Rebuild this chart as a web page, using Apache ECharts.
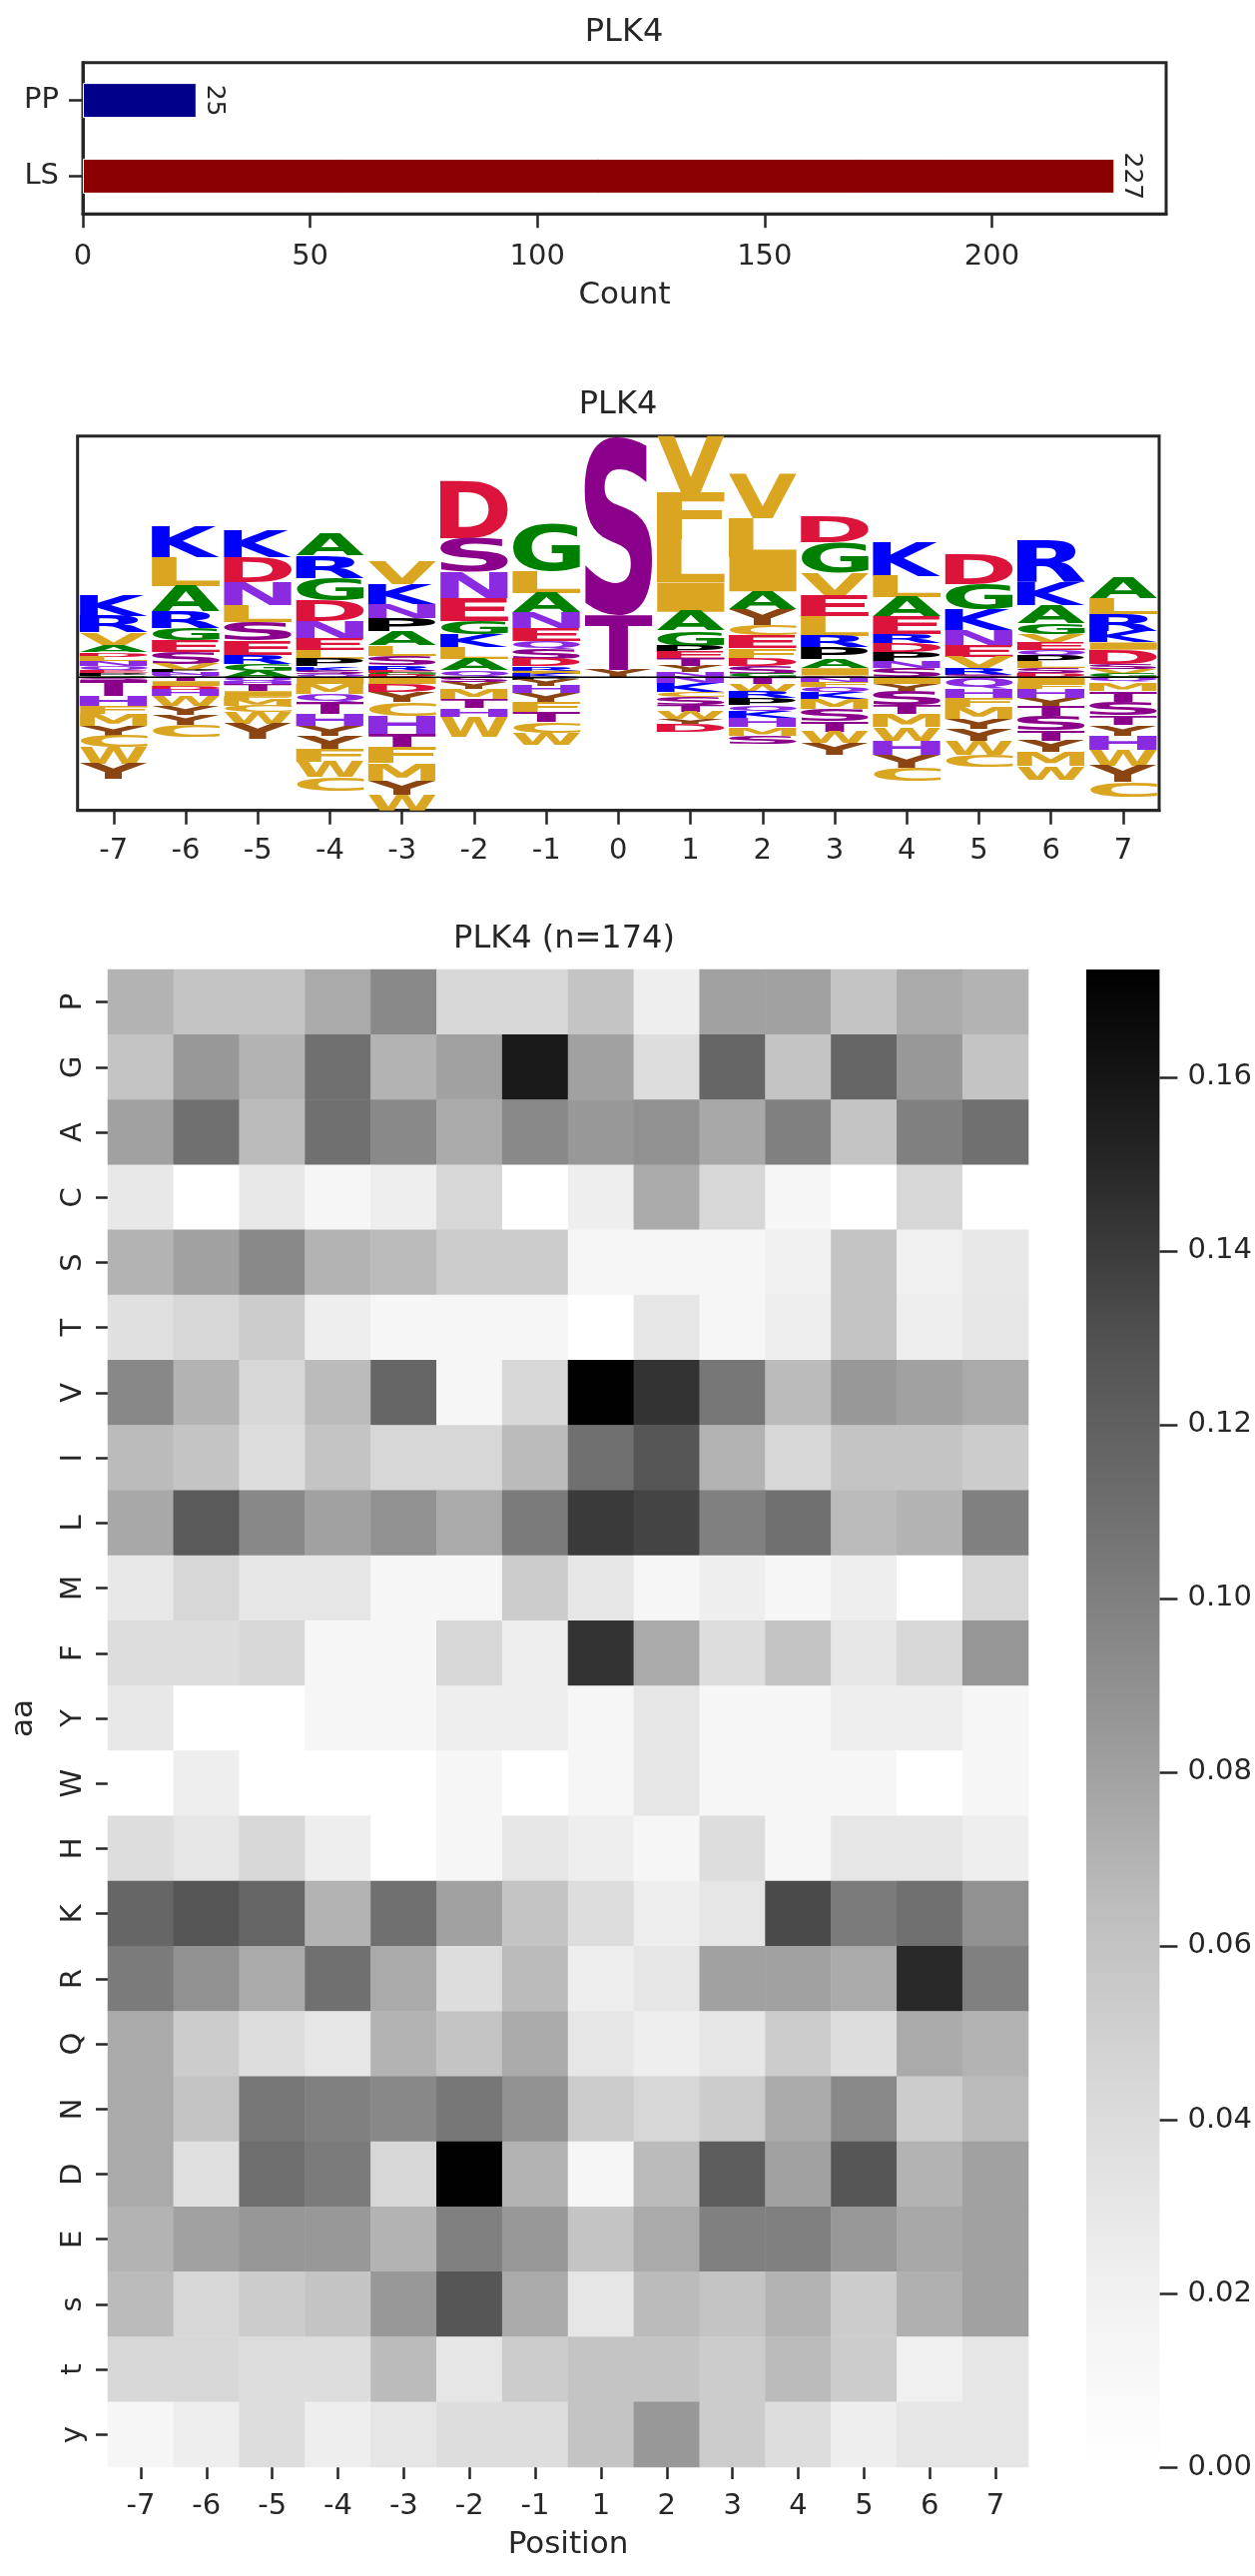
<!DOCTYPE html>
<html><head><meta charset="utf-8">
<script src="https://cdn.jsdelivr.net/npm/echarts@6/dist/echarts.min.js"></script>
<style>html,body{margin:0;padding:0;background:#fff}#c{width:1257px;height:2580px}</style>
</head><body><div id="c"></div>
<script>
// ---------- bar chart data ----------
const barCategories = ['PP', 'LS'];
const barValues = [25, 227];
const barColors = ['#00008b', '#8b0000'];
const barTicks = [0, 50, 100, 150, 200];

// ---------- sequence logo data (letter, height); above: top->bottom, below: from baseline downward ----------
const logoPositions = [-7, -6, -5, -4, -3, -2, -1, 0, 1, 2, 3, 4, 5, 6, 7];
const logoM7Above = [['K',.21],['R',.167],['V',.133],['A',.067],['D',.043],['L',.047],['N',.05],['Q',.043],['E',.027],['P',.023],['G',.017]];
const logoM7Below = [['S',-.023],['T',-.16],['H',-.10],['F',-.083],['M',-.117],['Y',-.10],['C',-.117],['W',-.167],['Y',-.15]];
const logoM6Above = [['K',.317],['L',.29],['A',.26],['R',.163],['G',.127],['E',.11],['S',.123],['V',.057],['P',.027],['N',.027],['Q',.023]];
const logoM6Below = [['T',-.04],['I',-.05],['D',-.04],['H',-.06],['W',-.10],['Y',-.09],['Y',-.10],['C',-.117]];
const logoM5Above = [['K',.277],['D',.25],['N',.233],['L',.173],['S',.183],['E',.143],['R',.09],['G',.067],['A',.067]];
const logoM5Below = [['Q',-.04],['H',-.033],['T',-.067],['I',-.05],['F',-.04],['M',-.06],['C',-.06],['W',-.117],['Y',-.15]];
const logoM4Above = [['A',.227],['R',.223],['G',.223],['D',.21],['N',.183],['E',.11],['L',.09],['P',.073],['K',.043],['S',.033],['Q',.033]];
const logoM4Below = [['I',-.067],['M',-.10],['Q',-.083],['T',-.117],['H',-.117],['Y',-.10],['Y',-.14],['F',-.127],['W',-.15],['C',-.133]];
const logoM3Above = [['V',.227],['K',.20],['N',.143],['P',.133],['A',.14],['L',.107],['S',.093],['R',.05],['E',.027],['G',.02],['D',.02]];
const logoM3Below = [['I',-.067],['D',-.077],['Y',-.107],['C',-.133],['H',-.183],['T',-.143],['F',-.15],['M',-.173],['Y',-.143],['W',-.158]];
const logoM2Above = [['D',.567],['S',.333],['N',.263],['E',.227],['G',.133],['K',.133],['L',.117],['A',.117],['Q',.067]];
const logoM2Below = [['S',-.05],['Y',-.067],['M',-.10],['T',-.093],['H',-.083],['W',-.20]];
const logoM1Above = [['G',.467],['L',.217],['A',.193],['N',.157],['E',.133],['Q',.083],['S',.10],['D',.073],['R',.043],['I',.033],['K',.033]];
const logoM1Below = [['P',-.023],['Y',-.06],['H',-.073],['Y',-.093],['F',-.10],['T',-.10],['C',-.107],['W',-.12]];
const logoP0Above = [['S',1.789],['T',.55],['Y',.077]];
const logoP0Below = [];
const logoP1Above = [['V',.567],['F',.467],['L',.433],['I',.293],['A',.19],['G',.15],['P',.06],['E',.073],['T',.073],['Y',.06],['N',.05]];
const logoP1Below = [['N',-.057],['K',-.093],['C',-.05],['S',-.083],['T',-.06],['W',-.073],['Y',-.05],['D',-.083]];
const logoP2Above = [['V',.443],['L',.383],['I',.347],['A',.177],['Y',.16],['C',.107],['E',.127],['F',.107],['D',.073],['S',.077],['G',.033]];
const logoP2Below = [['T',-.067],['W',-.083],['R',-.06],['P',-.067],['Q',-.067],['K',-.067],['H',-.09],['M',-.083],['S',-.083]];
const logoP3Above = [['D',.26],['G',.30],['V',.233],['E',.207],['L',.20],['R',.11],['P',.117],['A',.093],['I',.073],['S',.017]];
const logoP3Below = [['N',-.043],['F',-.05],['Q',-.067],['K',-.06],['M',-.10],['S',-.123],['T',-.10],['W',-.117],['Y',-.117]];
const logoP4Above = [['K',.333],['L',.217],['A',.19],['E',.177],['R',.093],['D',.09],['P',.093],['N',.067],['S',.09]];
const logoP4Below = [['I',-.067],['Y',-.067],['S',-.143],['T',-.09],['M',-.133],['W',-.133],['H',-.143],['Y',-.133],['C',-.133]];
const logoP5Above = [['D',.30],['G',.25],['K',.207],['N',.16],['E',.117],['V',.11],['R',.067],['S',.023]];
const logoP5Below = [['Q',-.117],['H',-.093],['F',-.09],['M',-.117],['Y',-.10],['Y',-.117],['W',-.143],['C',-.123]];
const logoP6Above = [['R',.41],['K',.233],['A',.18],['G',.11],['V',.083],['E',.073],['Q',.067],['P',.06],['L',.06],['S',.047],['D',.043]];
const logoP6Below = [['I',-.067],['F',-.05],['H',-.093],['Y',-.073],['T',-.10],['S',-.15],['T',-.10],['Y',-.11],['M',-.147],['W',-.133]];
const logoP7Above = [['A',.21],['L',.157],['R',.167],['K',.117],['I',.073],['D',.143],['S',.05],['V',.05],['G',.033]];
const logoP7Below = [['Q',-.05],['M',-.083],['T',-.11],['S',-.14],['T',-.093],['Y',-.107],['H',-.14],['W',-.16],['Y',-.167],['C',-.15]];
const logoYMin = -1.334, logoYMax = 2.416;

// ---------- heatmap data ----------
const heatPositions = ['-7','-6','-5','-4','-3','-2','-1','1','2','3','4','5','6','7'];
const heatResidues = ['P','G','A','C','S','T','V','I','L','M','F','Y','W','H','K','R','Q','N','D','E','s','t','y'];
const heatP = [.070,.059,.059,.075,.094,.045,.045,.059,.023,.080,.080,.059,.075,.070];
const heatG = [.059,.085,.070,.110,.070,.080,.157,.080,.039,.116,.059,.116,.085,.059];
const heatA = [.080,.110,.066,.110,.094,.075,.094,.085,.089,.076,.100,.059,.100,.110];
const heatC = [.029,0,.029,.013,.023,.045,0,.023,.075,.045,.013,0,.045,0];
const heatS = [.070,.080,.094,.070,.066,.053,.053,.013,.013,.013,.022,.059,.022,.029];
const heatT = [.037,.045,.053,.023,.013,.013,.013,0,.031,.013,.023,.059,.023,.031];
const heatV = [.095,.070,.045,.066,.116,.013,.045,.172,.144,.105,.066,.085,.080,.075];
const heatI = [.066,.059,.039,.059,.045,.045,.066,.110,.127,.070,.045,.059,.059,.053];
const heatL = [.076,.124,.095,.080,.089,.075,.103,.141,.136,.100,.110,.066,.070,.100];
const heatM = [.029,.045,.031,.031,.013,.013,.053,.031,.013,.023,.013,.023,0,.045];
const heatF = [.039,.039,.045,.013,.013,.045,.023,.144,.075,.039,.059,.031,.045,.086];
const heatY = [.029,0,0,.013,.013,.023,.023,.013,.031,.013,.013,.023,.023,.013];
const heatW = [0,.023,0,0,0,.013,0,.013,.031,.013,.013,.013,0,.013];
const heatH = [.039,.031,.045,.023,0,.013,.031,.023,.013,.039,.013,.031,.031,.023];
const heatK = [.116,.127,.116,.070,.110,.080,.059,.039,.023,.031,.133,.103,.110,.089];
const heatR = [.103,.089,.075,.110,.075,.039,.066,.023,.031,.080,.080,.075,.149,.100];
const heatQ = [.075,.053,.039,.031,.070,.059,.075,.031,.023,.031,.053,.039,.075,.070];
const heatN = [.075,.059,.105,.100,.095,.105,.089,.053,.045,.053,.075,.094,.053,.066];
const heatD = [.075,.037,.111,.103,.045,.172,.070,.013,.066,.122,.080,.127,.070,.080];
const heatE = [.070,.080,.086,.085,.070,.100,.085,.059,.075,.100,.100,.085,.076,.080];
const heat_s = [.066,.045,.053,.059,.085,.127,.075,.031,.066,.059,.070,.053,.072,.080];
const heat_t = [.045,.045,.039,.039,.066,.031,.053,.059,.059,.053,.066,.053,.022,.031];
const heat_y = [.013,.023,.039,.023,.031,.039,.039,.059,.085,.053,.039,.023,.031,.031];
const cbarTicks = [0, 0.02, 0.04, 0.06, 0.08, 0.10, 0.12, 0.14, 0.16];
const heatMax = 0.1724;

// ---------- styling ----------
const INK = '#262626';
const FONT = 'DejaVu Sans';
const greys = ['#ffffff','#f0f0f0','#d9d9d9','#bdbdbd','#969696','#737373','#525252','#252525','#000000'];
const letterColor = {
  K:'#0000ff', R:'#0000ff',
  D:'#dc143c', E:'#dc143c',
  G:'#008000', A:'#008000',
  N:'#8a2be2', Q:'#8a2be2', H:'#8a2be2',
  S:'#8b008b', T:'#8b008b',
  V:'#daa520', L:'#daa520', I:'#daa520', M:'#daa520', F:'#daa520', W:'#daa520', C:'#daa520',
  Y:'#8b4513', P:'#000000'
};

// ---------- build logo items ----------
const logoAbove = [logoM7Above,logoM6Above,logoM5Above,logoM4Above,logoM3Above,logoM2Above,logoM1Above,logoP0Above,logoP1Above,logoP2Above,logoP3Above,logoP4Above,logoP5Above,logoP6Above,logoP7Above];
const logoBelow = [logoM7Below,logoM6Below,logoM5Below,logoM4Below,logoM3Below,logoM2Below,logoM1Below,logoP0Below,logoP1Below,logoP2Below,logoP3Below,logoP4Below,logoP5Below,logoP6Below,logoP7Below];
const logoItems = [];
logoPositions.forEach((p, i) => {
  let top = logoAbove[i].reduce((s, e) => s + e[1], 0);
  logoAbove[i].forEach(([ch, h]) => { logoItems.push({ x: p, y0: top - h, y1: top, ch }); top -= h; });
  let y = 0;
  logoBelow[i].forEach(([ch, h]) => { logoItems.push({ x: p, y0: y + h, y1: y, ch }); y += h; });
});

const mctx = document.createElement('canvas').getContext('2d');
mctx.font = 'bold 100px ' + FONT;
mctx.textBaseline = 'middle';
mctx.textAlign = 'left';
const metricCache = {};
function glyphMetrics(ch) {
  if (!metricCache[ch]) {
    const m = mctx.measureText(ch);
    metricCache[ch] = { L: m.actualBoundingBoxLeft, R: m.actualBoundingBoxRight, A: m.actualBoundingBoxAscent, D: m.actualBoundingBoxDescent };
  }
  return metricCache[ch];
}
const LETTER_HALF = 0.47;
function renderLetter(params, api) {
  const it = logoItems[params.dataIndex];
  const x = api.value(0), y0 = api.value(1), y1 = api.value(2);
  const tl = api.coord([x - LETTER_HALF, y1]);
  const br = api.coord([x + LETTER_HALF, y0]);
  const rw = br[0] - tl[0], rh = br[1] - tl[1];
  if (rh <= 0.2) return null;
  const m = glyphMetrics(it.ch);
  const sx = rw / (m.L + m.R), sy = rh / (m.A + m.D);
  return {
    type: 'text', x: tl[0] + m.L * sx, y: tl[1] + m.A * sy, scaleX: sx, scaleY: sy, silent: true,
    style: { text: it.ch, fill: letterColor[it.ch], fontSize: 100, fontWeight: 'bold', fontFamily: FONT, align: 'left', verticalAlign: 'middle' }
  };
}

// ---------- heatmap table ----------
const heatRows = [heatP,heatG,heatA,heatC,heatS,heatT,heatV,heatI,heatL,heatM,heatF,heatY,heatW,heatH,heatK,heatR,heatQ,heatN,heatD,heatE,heat_s,heat_t,heat_y];
const heatData = [];
heatRows.forEach((row, r) => row.forEach((v, c) => heatData.push([c, r, v])));

const tickStyle = { color: INK, width: 2.5 };
const labelStyle = { color: INK, fontSize: 29, fontFamily: FONT };
const nameStyle = { color: INK, fontSize: 31, fontFamily: FONT };

const chart = echarts.init(document.getElementById('c'), null, { renderer: 'canvas', width: 1257, height: 2580 });
chart.setOption({
  animation: false,
  backgroundColor: '#ffffff',
  textStyle: { fontFamily: FONT },
  graphic: [
    { type: 'text', x: 625, y: 33, style: { text: 'PLK4', fill: INK, fontSize: 32, fontFamily: FONT, align: 'center', verticalAlign: 'middle' } },
    { type: 'text', x: 619, y: 406, style: { text: 'PLK4', fill: INK, fontSize: 32, fontFamily: FONT, align: 'center', verticalAlign: 'middle' } },
    { type: 'text', x: 565, y: 941, style: { text: 'PLK4 (n=174)', fill: INK, fontSize: 32, fontFamily: FONT, align: 'center', verticalAlign: 'middle' } }
  ],
  grid: [
    { left: 83, top: 62.7, width: 1085, height: 151.6, show: true, borderColor: INK, borderWidth: 3 },
    { left: 77.7, top: 436.7, width: 1083.3, height: 375, show: true, borderColor: INK, borderWidth: 3 },
    { left: 100, top: 971, width: 930, height: 1500 },
    { left: 1088, top: 971, width: 75, height: 1500 }
  ],
  visualMap: [{ type: 'continuous', show: false, min: 0, max: heatMax, seriesIndex: 3, dimension: 2, inRange: { color: greys } }],
  xAxis: [
    { gridIndex: 0, type: 'value', min: 0, max: 238.35,
      axisLine: { show: true, onZero: false, lineStyle: { color: INK, width: 3 } }, splitLine: { show: false },
      axisTick: { show: true, length: 14, lineStyle: tickStyle, customValues: barTicks },
      axisLabel: Object.assign({ margin: 29, customValues: barTicks }, labelStyle),
      name: 'Count', nameLocation: 'middle', nameGap: 66, nameTextStyle: nameStyle },
    { gridIndex: 1, type: 'value', min: -7.5, max: 7.5,
      axisLine: { show: true, onZero: false, lineStyle: { color: INK, width: 3 } }, splitLine: { show: false },
      axisTick: { show: true, length: 14, lineStyle: tickStyle, customValues: logoPositions },
      axisLabel: Object.assign({ margin: 26, customValues: logoPositions }, labelStyle) },
    { gridIndex: 2, type: 'category', data: heatPositions,
      axisLine: { show: false, onZero: false }, splitLine: { show: false },
      axisTick: { show: true, alignWithLabel: true, interval: 0, length: 12, lineStyle: tickStyle },
      axisLabel: Object.assign({ margin: 25, interval: 0 }, labelStyle),
      name: 'Position', nameLocation: 'middle', nameGap: 62, nameTextStyle: nameStyle },
    { gridIndex: 3, type: 'value', min: 0, max: 1, show: false, axisLine: { onZero: false } }
  ],
  yAxis: [
    { gridIndex: 0, type: 'category', data: barCategories, inverse: true,
      axisLine: { show: true, onZero: false, lineStyle: { color: INK, width: 3 } },
      axisTick: { show: true, alignWithLabel: true, length: 14, lineStyle: tickStyle },
      axisLabel: Object.assign({ margin: 24 }, labelStyle) },
    { gridIndex: 1, type: 'value', min: logoYMin, max: logoYMax, show: false, splitLine: { show: false }, axisLine: { onZero: false } },
    { gridIndex: 2, type: 'category', data: heatResidues, inverse: true,
      axisLine: { show: false, onZero: false }, splitLine: { show: false },
      axisTick: { show: true, alignWithLabel: true, interval: 0, length: 12, lineStyle: tickStyle },
      axisLabel: Object.assign({ margin: 20, interval: 0, rotate: 90 }, labelStyle),
      name: 'aa', nameLocation: 'middle', nameRotate: 90, nameGap: 69, nameTextStyle: nameStyle },
    { gridIndex: 3, type: 'value', min: 0, max: heatMax, position: 'right',
      axisLine: { show: false, onZero: false }, splitLine: { show: false },
      axisTick: { show: true, inside: false, length: 18, lineStyle: tickStyle, customValues: cbarTicks },
      axisLabel: Object.assign({ margin: 28, customValues: cbarTicks, formatter: v => v.toFixed(2) }, labelStyle) }
  ],
  series: [
    { type: 'bar', xAxisIndex: 0, yAxisIndex: 0, barWidth: 35, silent: true,
      data: barValues.map((v, i) => ({ value: v, itemStyle: { color: barColors[i], borderColor: '#ffffff', borderWidth: 1 } })),
      label: { show: true, position: 'right', distance: 5, rotate: -90, align: 'center', verticalAlign: 'bottom', color: INK, fontSize: 25, fontFamily: FONT } },
    { type: 'custom', xAxisIndex: 1, yAxisIndex: 1, clip: true, silent: true, z: 2,
      data: logoItems.map(d => [d.x, d.y0, d.y1]), encode: { x: 0, y: [1, 2] }, renderItem: renderLetter },
    { type: 'line', xAxisIndex: 1, yAxisIndex: 1, silent: true, z: 5, symbol: 'none',
      data: [[-7.5, 0], [7.5, 0]], lineStyle: { color: '#000000', width: 1.5 } },
    { type: 'heatmap', xAxisIndex: 2, yAxisIndex: 2, data: heatData, silent: true, emphasis: { disabled: true } },
    { type: 'custom', xAxisIndex: 3, yAxisIndex: 3, silent: true, data: [[0, heatMax]], encode: { x: 0, y: 1 },
      renderItem: function (params, api) {
        const tl = api.coord([0, api.value(1)]);
        const br = api.coord([1, 0]);
        const stops = greys.slice().reverse().map((c, i) => ({ offset: i / (greys.length - 1), color: c }));
        return { type: 'rect', shape: { x: tl[0], y: tl[1], width: br[0] - tl[0], height: br[1] - tl[1] },
          style: { fill: new echarts.graphic.LinearGradient(0, 0, 0, 1, stops) } };
      } }
  ]
});
</script>
</body></html>
